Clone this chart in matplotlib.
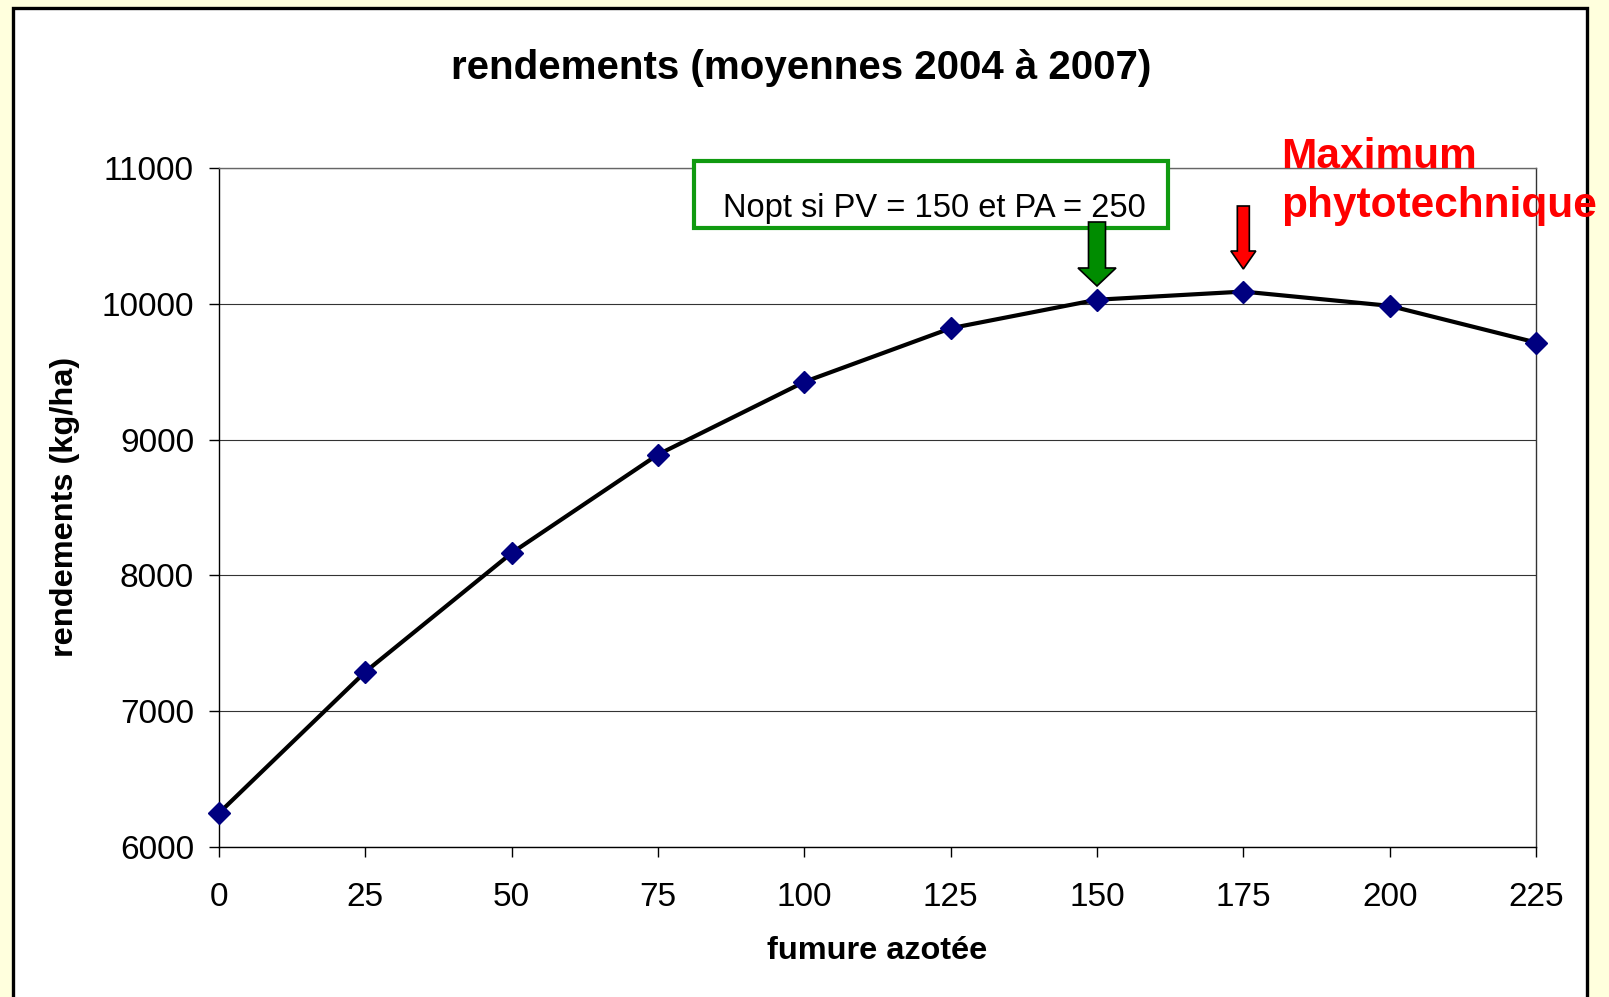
import matplotlib
matplotlib.use("Agg")
import matplotlib.pyplot as plt
from matplotlib.patches import Rectangle, Polygon

# ---- data ----
fumure = [0, 25, 50, 75, 100, 125, 150, 175, 200, 225]
rendements = [6250, 7290, 8165, 8890, 9425, 9820, 10030, 10090, 9985, 9715]
yticks = [6000, 7000, 8000, 9000, 10000, 11000]
title = "rendements (moyennes 2004 à 2007)"
xlabel = "fumure azotée"
ylabel = "rendements (kg/ha)"
box_text = "Nopt si PV = 150 et PA = 250"
max_text = "Maximum\nphytotechnique"
x_opt = 150
x_max = 175

W, H = 1609, 997
plt.rcParams['font.family'] = ['Liberation Sans', 'DejaVu Sans']
fig = plt.figure(figsize=(W / 100, H / 100), dpi=100)
fig.patch.set_facecolor('#FFFFDD')

def fx(px):
    return px / W

def fy(py):
    return 1 - py / H

# white panel
fig.patches.append(Rectangle((fx(13), fy(1010)), fx(1587) - fx(13), fy(8) - fy(1010),
                             transform=fig.transFigure, facecolor='white',
                             edgecolor='black', linewidth=2.4, zorder=-5))

ax = fig.add_axes([fx(219), fy(847), fx(1536) - fx(219), fy(168) - fy(847)])
ax.set_zorder(1)
ax.set_facecolor('white')
ax.plot(fumure, rendements, color='black', linewidth=3.0, marker='D',
        markersize=11.5, markerfacecolor='#000080', markeredgecolor='#000080',
        zorder=3, clip_on=False)
ax.set_xlim(0, 225)
ax.set_ylim(6000, 11000)
ax.set_xticks(fumure)
ax.set_yticks(yticks)
ax.yaxis.grid(True, color='#333333', linewidth=0.8)
ax.set_axisbelow(True)
for s in ax.spines.values():
    s.set_color('black')
    s.set_linewidth(1.0)
ax.spines['top'].set_color('#666666')
ax.spines['right'].set_color('#333333')
ax.tick_params(axis='both', direction='out', length=7, width=1.0, labelsize=24)
ax.tick_params(axis='y', pad=11)
ax.tick_params(axis='x', pad=18)

fig.text(fx(801), fy(68), title, ha='center', va='center', fontsize=29, fontweight='bold')
fig.text(fx(877), fy(951), xlabel, ha='center', va='center', fontsize=23.4, fontweight='bold')
fig.text(fx(65), fy(507), ylabel, ha='center', va='center', fontsize=23.4,
         fontweight='bold', rotation=90)

# green box
fig.patches.append(Rectangle((fx(694), fy(228)), fx(1168) - fx(694), fy(161) - fy(228),
                             transform=fig.transFigure, facecolor='white',
                             edgecolor='#109A10', linewidth=3.0, zorder=5))
fig.text(fx(934), fy(208), box_text, ha='center', va='center', fontsize=23.5, zorder=6)

# red text
fig.text(fx(1281), fy(137), max_text, ha='left', va='top', fontsize=30.5,
         fontweight='bold', color='#FF0000', linespacing=1.3, zorder=6)

def down_arrow(xdata, top_px, head_px, tip_px, shaft_w, head_w, color):
    xpix = ax.transData.transform((xdata, 7000))[0]
    pts_px = [(xpix - shaft_w / 2, top_px), (xpix + shaft_w / 2, top_px),
              (xpix + shaft_w / 2, head_px), (xpix + head_w / 2, head_px),
              (xpix, tip_px), (xpix - head_w / 2, head_px),
              (xpix - shaft_w / 2, head_px)]
    pts = [(fx(px), fy(py)) for px, py in pts_px]
    fig.patches.append(Polygon(pts, closed=True, transform=fig.transFigure,
                               facecolor=color, edgecolor='black', linewidth=1.2,
                               zorder=7))

down_arrow(x_opt, 222, 268, 286, 17, 38, '#008C00')
down_arrow(x_max, 206, 251, 269, 12, 25, '#FF0000')

fig.savefig('out.png', dpi=100, facecolor=fig.get_facecolor())
